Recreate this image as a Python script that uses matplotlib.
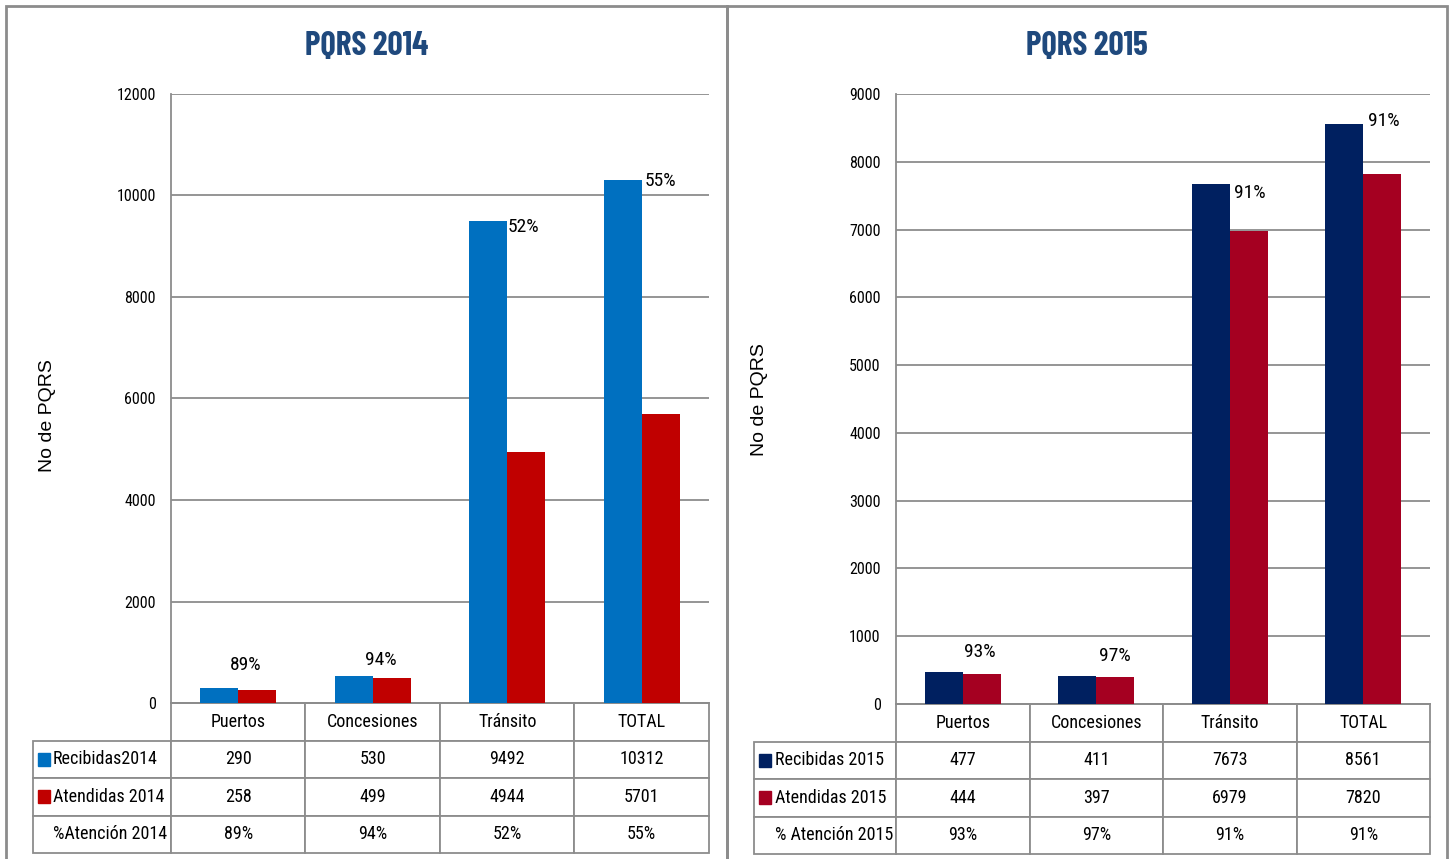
import matplotlib
matplotlib.use('Agg')
import matplotlib.pyplot as plt
from matplotlib.patches import Rectangle

plt.rcParams['font.family'] = ['Roboto Condensed', 'DejaVu Sans']

categorias = ['Puertos', 'Concesiones', 'Tránsito', 'TOTAL']

recibidas_2014 = [290, 530, 9492, 10312]
atendidas_2014 = [258, 499, 4944, 5701]
pct_2014 = ['89%', '94%', '52%', '55%']

recibidas_2015 = [477, 411, 7673, 8561]
atendidas_2015 = [444, 397, 6979, 7820]
pct_2015 = ['93%', '97%', '91%', '91%']

W, H = 1450, 859
GRAY = '#8c8c8c'


def px_rect(x0, y0, x1, y1):
    # caja en pixeles (origen arriba-izq) -> fraccion de figura
    return [x0 / W, (H - y1) / H, (x1 - x0) / W, (y1 - y0) / H]


def panel(fig, frame, box, title, rec, ate, pct, nombres, colores,
          ymax, ystep, tab_left, ylab_pos, lbl_off):
    fx = px_rect(*frame)
    fig.patches.append(Rectangle((fx[0], fx[1]), fx[2], fx[3], transform=fig.transFigure,
                                 fill=False, edgecolor=GRAY, lw=2))
    fig.text(fx[0] + fx[2] / 2, (H - 46) / H, title, ha='center', va='center',
             family=['Barlow Condensed', 'Roboto Condensed'], fontsize=24, fontweight='bold',
             color='#1f497d')

    ax = fig.add_axes(px_rect(*box))
    x0, y0, x1, y1 = box
    wpx, hpx = x1 - x0, y1 - y0
    n = len(categorias)
    xs = range(n)
    bw = 38 / (wpx / n)
    ax.bar([x - bw / 2 for x in xs], rec, bw, color=colores[0], zorder=3)
    ax.bar([x + bw / 2 for x in xs], ate, bw, color=colores[1], zorder=3)

    for i in xs:
        dx, dy = lbl_off[i]
        ax.annotate(pct[i], (i + bw / 2, rec[i]), xytext=(dx * 0.72, dy * 0.72),
                    textcoords='offset points', ha='center', va='center', fontsize=14)

    ax.set_xlim(-0.5, n - 0.5)
    ax.set_ylim(0, ymax)
    ax.set_yticks(range(0, ymax + 1, ystep))
    ax.set_xticks([])
    ax.tick_params(axis='y', length=0, pad=11, labelsize=11.5)
    ax.grid(axis='y', color=GRAY, lw=1.3, zorder=0)
    for s in ['top', 'right']:
        ax.spines[s].set_visible(False)
    for s in ['left', 'bottom']:
        ax.spines[s].set_color(GRAY)
        ax.spines[s].set_linewidth(1.3)

    ax.set_ylabel('No de PQRS', family=['Liberation Sans', 'DejaVu Sans'], fontsize=14)
    ax.yaxis.set_label_coords((ylab_pos[0] - x0) / wpx, (y1 - ylab_pos[1]) / hpx)

    # tabla de datos
    filas = [[''] + categorias,
             [nombres[0]] + [str(v) for v in rec],
             [nombres[1]] + [str(v) for v in ate],
             [nombres[2]] + pct]
    lab_w = x0 - tab_left
    col_w = wpx / n
    tab_h = 150
    tb = ax.table(cellText=filas, cellLoc='center',
                  colWidths=[lab_w] + [col_w] * n,
                  bbox=[(tab_left - x0) / wpx, -tab_h / hpx, (x1 - tab_left) / wpx, tab_h / hpx])
    tb.auto_set_font_size(False)
    tb.set_fontsize(13)
    for (r, c), cell in tb.get_celld().items():
        cell.set_edgecolor(GRAY)
        cell.set_linewidth(1.3)
        if r == 0 and c == 0:
            cell.visible_edges = ''
        if c == 0 and r > 0:
            cell.PAD = 0.145
            cell.get_text().set_ha('left')
            cell._loc = 'left'
    # cuadros de leyenda
    row_h = tab_h / 4
    for k in range(2):
        cy = row_h * (k + 1.5)
        ax.add_patch(Rectangle(((tab_left + 5 - x0) / wpx, -(cy + 6.5) / hpx),
                               12 / wpx, 13 / hpx, transform=ax.transAxes,
                               color=colores[k], clip_on=False))
    return ax


fig = plt.figure(figsize=(W / 100, H / 100), dpi=100)

panel(fig, (6, 6, 727, 870), (171, 94, 709, 703), 'PQRS 2014',
      recibidas_2014, atendidas_2014, pct_2014,
      ['Recibidas2014', 'Atendidas 2014', '%Atención 2014'],
      ['#0070c0', '#c00000'], 12000, 2000, 33, (56, 416),
      [(-12, 23), (-11, 16), (-3, -6), (0, -1)])

panel(fig, (727, 6, 1447, 870), (896, 94, 1430, 704), 'PQRS 2015',
      recibidas_2015, atendidas_2015, pct_2015,
      ['Recibidas 2015', 'Atendidas 2015', '% Atención 2015'],
      ['#002060', '#a50021'], 9000, 1000, 754, (768, 400),
      [(-2, 20), (0, 20), (1, -9), (2, 3)])

fig.savefig('out.png', dpi=100)
